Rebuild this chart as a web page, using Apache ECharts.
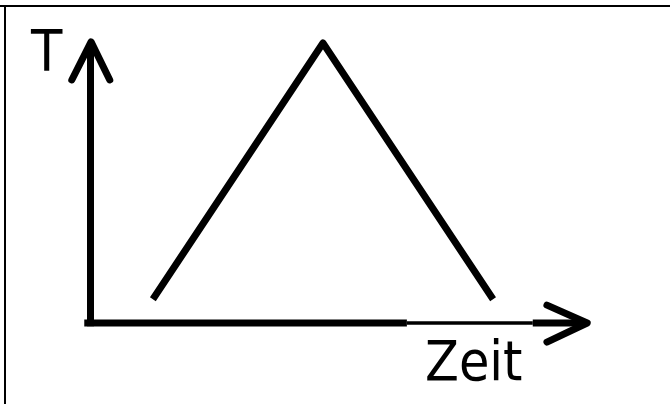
<!DOCTYPE html>
<head>
    <meta charset="utf-8">
    <script type="text/javascript" src="https://cdn.jsdelivr.net/npm/echarts@6/dist/echarts.min.js"></script>
</head>
<body style="margin: 0; background: #fff">
<div id="container" style="width: 670px; height: 404px"></div>
<script type="text/javascript">
    // Temperaturverlauf: Anstieg und Abfall (Zeit / T)
    var zeit = [1.1, 4.1, 7.1];
    var temp = [0.85, 10, 0.85];

    // Achsen mit offenen Pfeilspitzen
    var yAchse = [[0, -0.12], [0, 10]];
    var yPfeil = [[-0.33, 8.68], [0.01, 10.04], [0.34, 8.68]];
    var xAchseA = [[-0.11, 0], [5.58, 0]];
    var xAchseB = [[5.58, 0], [7.8, 0]];
    var xAchseC = [[7.8, 0], [8.7, 0]];
    var xPfeil = [[8.05, 0.64], [8.76, 0], [8.05, -0.68]];

    var dom = document.getElementById("container");
    var myChart = echarts.init(dom);

    function linie(data, width, cap) {
        return {
            type: 'line',
            data: data,
            symbol: 'none',
            clip: false,
            silent: true,
            animation: false,
            lineStyle: {
                color: '#000',
                width: width,
                cap: cap || 'butt',
                join: 'round'
            }
        };
    }

    var schrift = '"DejaVu Sans Condensed", "DejaVu Sans", sans-serif';

    var option = {
        animation: false,
        // 1 Einheit Zeit = 56.7px, 1 Einheit T = 28px, Ursprung bei (90.5, 323)
        grid: {left: 33.8, top: 43, width: 623.7, height: 308},
        xAxis: {type: 'value', min: -1, max: 10, show: false},
        yAxis: {type: 'value', min: -1, max: 10, show: false},
        graphic: [
            {type: 'line', shape: {x1: 0, y1: 6, x2: 670, y2: 6}, style: {stroke: '#000', lineWidth: 2}},
            {type: 'line', shape: {x1: 5, y1: 5, x2: 5, y2: 404}, style: {stroke: '#000', lineWidth: 2}},
            {type: 'text', left: 31, top: 28, style: {text: 'T', fontSize: 57, fontFamily: schrift, fill: '#000'}},
            {type: 'text', left: 425, top: 338, style: {text: 'Zeit', fontSize: 55, fontFamily: schrift, fill: '#000'}}
        ],
        series: [
            linie(zeit.map(function (t, i) { return [t, temp[i]]; }), 7),
            linie(yAchse, 7),
            linie(yPfeil, 7, 'round'),
            linie(xAchseA, 7),
            linie(xAchseB, 3.5),
            linie(xAchseC, 7),
            linie(xPfeil, 7, 'round')
        ]
    };
    myChart.setOption(option);
</script>
</body>
</html>
